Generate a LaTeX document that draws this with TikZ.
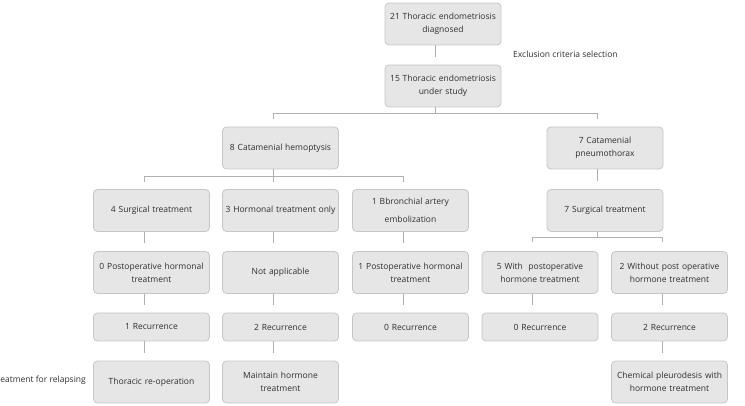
\documentclass[tikz,border=0pt]{standalone}
\usepackage{fontspec}
\setmainfont{Open Sans}
\usetikzlibrary{calc}
\definecolor{boxfill}{HTML}{E6E6E6}
\definecolor{boxline}{HTML}{C6C6C6}
\definecolor{txt}{HTML}{2E2E2E}
\definecolor{conn}{HTML}{B0B0B0}
\tikzset{
  box/.style={draw=boxline, fill=boxfill, rounded corners=4pt, line width=0.8pt,
    align=center, text=txt, inner sep=2pt, font=\fontsize{8.5}{13}\selectfont},
  wbox/.style={box, minimum width=114pt, minimum height=42pt, text width=112pt},
  sbox/.style={box, minimum width=114pt, minimum height=28pt, text width=112pt},
  conn/.style={draw=conn, line width=0.7pt},
  lbl/.style={text=txt, font=\fontsize{8.5}{10}\selectfont, inner sep=0pt}
}
\begin{document}
\begin{tikzpicture}[x=1pt,y=-1pt]
\useasboundingbox (0,0) rectangle (745,406);
% nodes
\node[wbox] (top) at (443,24) {21 Thoracic endometriosis\\diagnosed};
\node[wbox] (study) at (443,86) {15 Thoracic endometriosis\\under study};
\node[lbl, anchor=west] (excl) at (513,54) {Exclusion criteria selection};
\node[wbox] (hemo) at (280.5,148) {8 Catamenial hemoptysis};
\node[wbox] (pneu) at (605,148) {7 Catamenial\\pneumothorax};
\node[wbox] (surg) at (151.5,210.5) {4 Surgical treatment};
\node[wbox] (horm) at (280.5,210.5) {3 Hormonal treatment only};
\node[wbox] (emb) at (410.5,210.5) {1 Bbronchial artery\\[5pt]embolization};
\node[wbox] (psurg) at (605,210.5) {7 Surgical treatment};
\node[wbox] (r4a) at (151.5,272.5) {0 Postoperative hormonal\\treatment};
\node[wbox] (r4b) at (280.5,272.5) {Not applicable};
\node[wbox] (r4c) at (410.5,272.5) {1 Postoperative hormonal\\treatment};
\node[wbox] (r4d) at (540,272.5) {5 With\ \ postoperative\\hormone treatment};
\node[wbox] (r4e) at (669.5,272.5) {2 Without post operative\\hormone treatment};
\node[sbox] (r5a) at (151.5,327) {1 Recurrence};
\node[sbox] (r5b) at (280.5,327) {2 Recurrence};
\node[sbox] (r5c) at (410.5,327) {0 Recurrence};
\node[sbox] (r5d) at (540,327) {0 Recurrence};
\node[sbox] (r5e) at (669.5,327) {2 Recurrence};
\node[wbox] (r6a) at (151.5,382) {Thoracic re-operation};
\node[wbox] (r6b) at (280.5,382) {Maintain hormone\\treatment};
\node[wbox] (r6e) at (669.5,382) {Chemical pleurodesis with\\hormone treatment};
\node[lbl, anchor=east] (relap) at (86,380) {Treatment for relapsing};
% simple stubs (stop short of the next box)
\newcommand{\stub}[2]{\draw[conn] ([xshift=-7.5pt]#1.south) -- ([xshift=-7.5pt,yshift=8pt]#2.north);}
\stub{top}{study}
\stub{pneu}{psurg}
\stub{surg}{r4a}
\stub{horm}{r4b}
\stub{emb}{r4c}
\stub{r4a}{r5a}
\stub{r4b}{r5b}
\stub{r4c}{r5c}
\stub{r4d}{r5d}
\stub{r4e}{r5e}
\stub{r5a}{r6a}
\stub{r5b}{r6b}
\stub{r5e}{r6e}
% branches
\coordinate (b1) at ([xshift=-7.5pt]study.south |- 0,113);
\draw[conn] ([xshift=-7.5pt]study.south) -- (b1);
\draw[conn] ([xshift=-7.5pt,yshift=8pt]hemo.north) -- ([xshift=-7.5pt]hemo.north |- b1)
  -- ([xshift=-7.5pt]pneu.north |- b1) -- ([xshift=-7.5pt,yshift=8pt]pneu.north);
\coordinate (b2) at ([xshift=-7.5pt]hemo.south |- 0,176);
\draw[conn] ([xshift=-7.5pt]hemo.south) -- (b2);
\draw[conn] ([xshift=-7.5pt,yshift=7pt]surg.north) -- ([xshift=-7.5pt]surg.north |- b2)
  -- ([xshift=-7.5pt]emb.north |- b2) -- ([xshift=-7.5pt,yshift=7pt]emb.north);
\draw[conn] (b2) -- ([xshift=-7.5pt,yshift=7pt]horm.north);
\coordinate (b3) at ([xshift=-7.5pt]psurg.south |- 0,237);
\draw[conn] ([xshift=-7.5pt]psurg.south) -- (b3);
\draw[conn] ([xshift=-7.5pt,yshift=9pt]r4d.north) -- ([xshift=-7.5pt]r4d.north |- b3)
  -- ([xshift=-7.5pt]r4e.north |- b3) -- ([xshift=-7.5pt,yshift=9pt]r4e.north);
\end{tikzpicture}
\end{document}
